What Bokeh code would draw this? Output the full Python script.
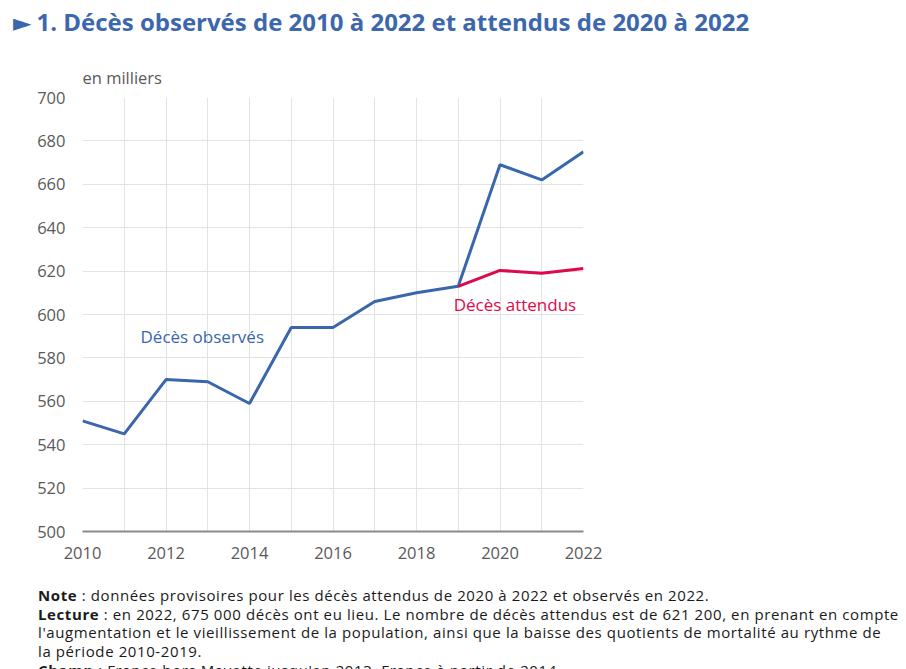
from bokeh.plotting import figure
from bokeh.models import Range1d, FixedTicker, Label, Div, Title
from bokeh.layouts import column
from bokeh.embed import file_html
from bokeh.resources import INLINE

# Data (milliers de décès)
years_obs = [2010, 2011, 2012, 2013, 2014, 2015, 2016, 2017, 2018, 2019, 2020, 2021, 2022]
deces_observes = [551, 545, 570, 569, 559, 594, 594, 606, 610, 613, 669, 662, 675]
years_att = [2019, 2020, 2021, 2022]
deces_attendus = [613, 620.3, 619, 621.2]
y_ticks = [500, 520, 540, 560, 580, 600, 620, 640, 660, 680, 700]
x_ticks = [2010, 2012, 2014, 2016, 2018, 2020, 2022]
x_grid = list(range(2010, 2023))

title = "1. Décès observés de 2010 à 2022 et attendus de 2020 à 2022"
unit = "en milliers"
label_obs = "Décès observés"
label_att = "Décès attendus"
note_lines = [
    ("Note", " : données provisoires pour les décès attendus de 2020 à 2022 et observés en 2022."),
    ("Lecture", " : en 2022, 675 000 décès ont eu lieu. Le nombre de décès attendus est de 621 200, en prenant en compte"),
    ("", "l'augmentation et le vieillissement de la population, ainsi que la baisse des quotients de mortalité au rythme de"),
    ("", "la période 2010-2019."),
    ("Champ", " : France hors Mayotte jusqu'en 2013, France à partir de 2014."),
]

BLUE = "#3a66ac"
RED = "#dc0a4b"
TITLE_BLUE = "#3c67ad"
GRAY = "#5a5a5a"
FONT = "Open Sans"

W = 906
TITLE_H = 45
FIG_TOP, FIG_BOTTOM = 45, 580
FL, FR, FT, FB = 82, 583, 97, 531

title_div = Div(
    text=f'<span style="font-family:\'DejaVu Sans\';font-size:24px;margin-right:5px;">►</span>{title}',
    width=W, height=TITLE_H, margin=0,
    styles={"font-family": FONT, "font-size": "24px", "font-weight": "bold",
            "color": TITLE_BLUE, "padding-left": "13px", "line-height": "44px",
            "white-space": "nowrap"},
)

p = figure(width=W, height=FIG_BOTTOM - FIG_TOP, output_backend="svg", toolbar_location=None,
           x_range=Range1d(2010, 2022), y_range=Range1d(500, 700),
           min_border_left=FL, min_border_right=W - FR,
           min_border_top=FT - FIG_TOP, min_border_bottom=FIG_BOTTOM - FB, margin=0)
p.outline_line_color = None
p.background_fill_color = "white"
p.border_fill_color = "white"
p.title = Title(text=unit, align="left", text_font=FONT, text_font_size="16.5px",
                text_color=GRAY, text_font_style="normal", standoff=17)

p.xaxis.ticker = FixedTicker(ticks=x_ticks)
p.yaxis.ticker = FixedTicker(ticks=y_ticks)
p.xgrid.ticker = FixedTicker(ticks=x_grid)
p.xgrid.grid_line_color = "#e3e3e3"
p.ygrid.grid_line_color = "#e3e3e3"

for ax in (p.xaxis, p.yaxis):
    ax.major_tick_line_color = None
    ax.minor_tick_line_color = None
    ax.major_label_text_font = FONT
    ax.major_label_text_font_size = "16.5px"
    ax.major_label_text_color = GRAY
p.yaxis.axis_line_color = None
p.yaxis.major_label_standoff = 11
p.xaxis.axis_line_color = "#8a8a8a"
p.xaxis.axis_line_width = 2
p.xaxis.major_label_standoff = 9

p.line(years_obs, deces_observes, line_color=BLUE, line_width=3)
p.line(years_att, deces_attendus, line_color=RED, line_width=3)

p.add_layout(Label(x=2011.39, y=590, text=label_obs, text_font=FONT, text_font_size="17px",
                   text_color=BLUE, text_baseline="middle"))
p.add_layout(Label(x=2018.89, y=604.6, text=label_att, text_font=FONT, text_font_size="17px",
                   text_color=RED, text_baseline="middle"))

rows = []
for b, rest in note_lines:
    rows.append((f"<b>{b}</b>" if b else "") + rest)
notes_div = Div(
    text="<br>".join(rows), width=W, height=669 - FIG_BOTTOM, margin=0,
    styles={"font-family": FONT, "font-size": "15px", "letter-spacing": "0.6px",
            "color": "#1a1a1a",
            "line-height": "18.7px", "padding-left": "38px", "padding-top": "6px",
            "white-space": "nowrap", "overflow": "hidden"},
)

layout = column(title_div, p, notes_div, spacing=0, margin=0)
open("out.html", "w").write(file_html(layout, INLINE))
